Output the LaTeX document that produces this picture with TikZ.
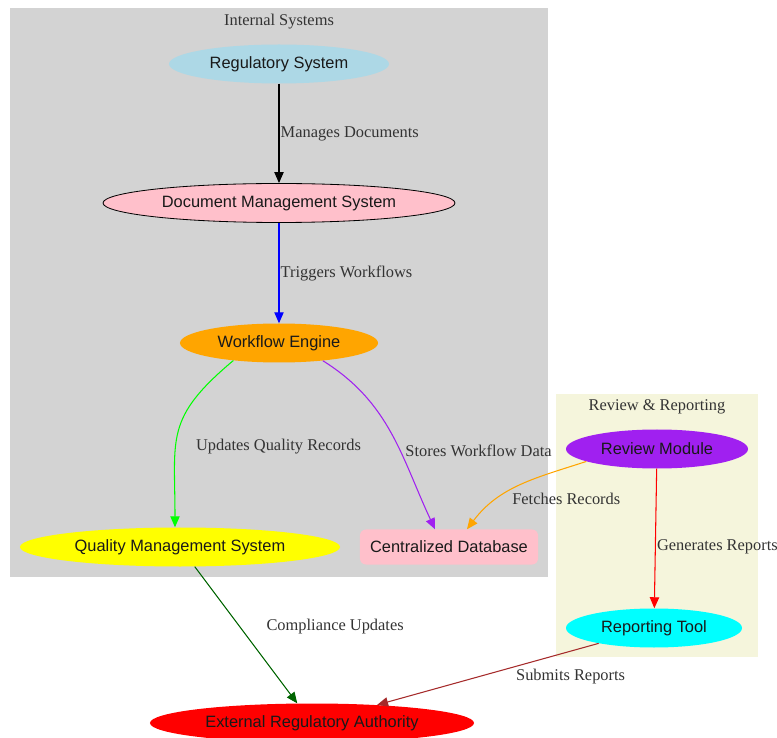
\documentclass[tikz,border=0pt]{standalone}
\usepackage{fontspec}
\setmainfont{Liberation Serif}
\setsansfont{Liberation Sans}
\usetikzlibrary{shapes.geometric,arrows.meta,positioning}

\definecolor{grayc}{HTML}{D3D3D3}
\definecolor{beigec}{HTML}{F5F5DC}
\definecolor{lightbluec}{HTML}{ADD8E6}
\definecolor{pinkc}{HTML}{FFC0CB}
\definecolor{orangec}{HTML}{FFA500}
\definecolor{purplec}{HTML}{A020F0}
\definecolor{yellowc}{HTML}{FFFF00}
\definecolor{cyanc}{HTML}{00FFFF}
\definecolor{redc}{HTML}{FF0000}
\definecolor{bluec}{HTML}{0000FF}
\definecolor{greenc}{HTML}{00FF00}
\definecolor{darkgreenc}{HTML}{006400}
\definecolor{brownc}{HTML}{A52A2A}

\begin{document}
\begin{tikzpicture}[
    x=0.03cm, y=0.03cm,
    base/.style={font=\sffamily\fontsize{14}{16}\selectfont, text=black!90, inner sep=0pt, minimum height=1.17cm},
    oval/.style={base, ellipse},
    lbl/.style={font=\fontsize{14}{16}\selectfont, text=black!80, inner sep=1pt},
    arrow/.style={-{Triangle[length=0.33cm, width=0.28cm]}, line width=0.9pt}
]
    \useasboundingbox (0,2) rectangle (777,-736);

    % Clusters
    \fill[grayc] (10,-6) rectangle (548,-575);
    \node[lbl] (intlbl) at (279,-20) {Internal Systems};
    \fill[beigec] (556,-392) rectangle (758,-655);
    \node[lbl] (revlbl) at (657,-405) {Review \& Reporting};

    % Internal systems
    \node[oval, fill=lightbluec, minimum width=6.6cm] (reg) at (279,-62) {Regulatory System};
    \node[oval, fill=pinkc, draw=black, line width=0.7pt, minimum width=10.56cm] (dms) at (279,-201) {Document Management System};
    \node[oval, fill=orangec, minimum width=5.94cm] (wfe) at (279,-341) {Workflow Engine};
    \node[oval, fill=yellowc, minimum width=9.6cm] (qms) at (180,-545) {Quality Management System};
    \node[base, rectangle, rounded corners=5pt, fill=pinkc, minimum width=5.34cm, minimum height=1.05cm] (cdb) at (449,-545) {Centralized Database};

    % Review and reporting
    \node[oval, fill=purplec, minimum width=5.46cm] (rvm) at (657,-447) {Review Module};
    \node[oval, fill=cyanc, minimum width=5.28cm] (rpt) at (654,-626) {Reporting Tool};

    % Outside
    \node[oval, fill=redc, minimum width=9.72cm] (era) at (312,-721) {External Regulatory Authority};

    % Arrows
    \draw[arrow] (reg) -- node[lbl, midway, right] {Manages Documents} (dms);
    \draw[arrow, bluec] (dms) -- node[lbl, midway, right] {Triggers Workflows} (wfe);
    \draw[arrow, greenc] (wfe.201) to[out=220, in=90, looseness=1.3]
        node[lbl, pos=0.6, right, xshift=0.56cm] {Updates Quality Records} ([xshift=-0.15cm]qms.north);
    \draw[arrow, purplec] (wfe.338) to[out=-32, in=115]
        node[lbl, pos=0.6, right, xshift=0.1cm] {Stores Workflow Data} ([xshift=-0.42cm]cdb.north);
    \draw[arrow, orangec] (rvm.190) to[out=198, in=53]
        node[lbl, pos=0.5, anchor=west, xshift=-0.27cm, yshift=-0.39cm] {Fetches Records} ([xshift=0.54cm]cdb.north);
    \draw[arrow, redc] (rvm) -- node[lbl, pos=0.56, right] {Generates Reports} (rpt);
    \draw[arrow, darkgreenc] (qms) -- node[lbl, pos=0.44, anchor=west, xshift=0.75cm] {Compliance Updates} (era);
    \draw[arrow, brownc] (rpt) -- node[lbl, pos=0.38, anchor=west, yshift=-0.3cm] {Submits Reports} (era);
\end{tikzpicture}
\end{document}
